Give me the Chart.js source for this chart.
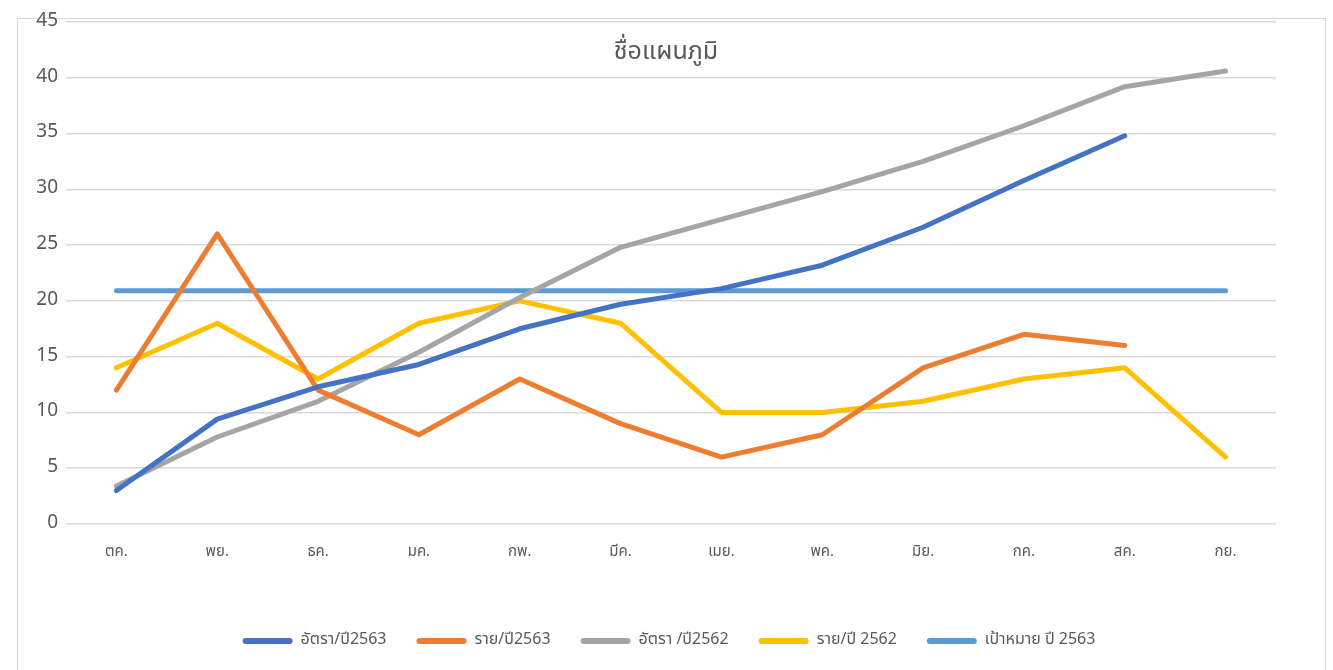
<!DOCTYPE html>
<html>
<head>
<meta charset="utf-8">
<script src="https://cdn.jsdelivr.net/npm/chart.js@4.4.1/dist/chart.umd.min.js"></script>
<style>
  html, body { margin: 0; padding: 0; background: #fff; width: 1333px; height: 670px; overflow: hidden; }
  #frame { position: absolute; left: 17px; top: 18px; width: 1309px; height: 700px; border: 1.5px solid #d9d9d9; box-sizing: border-box; }
  #wrap { position: absolute; left: 0; top: 0; width: 1333px; height: 670px; }
</style>
</head>
<body>
<div id="frame"></div>
<div id="wrap"><canvas id="c" width="1333" height="670"></canvas></div>
<script>
const categories = ['ตค.', 'พย.', 'ธค.', 'มค.', 'กพ.', 'มีค.', 'เมย.', 'พค.', 'มิย.', 'กค.', 'สค.', 'กย.'];
const rate2563 = [3, 9.4, 12.3, 14.3, 17.5, 19.7, 21.1, 23.2, 26.6, 30.8, 34.8, null];
const cases2563 = [12, 26, 12, 8, 13, 9, 6, 8, 14, 17, 16, null];
const rate2562 = [3.4, 7.8, 11, 15.4, 20.3, 24.8, 27.3, 29.8, 32.5, 35.7, 39.2, 40.6];
const cases2562 = [14, 18, 13, 18, 20, 18, 10, 10, 11, 13, 14, 6];
const target2563 = [20.9, 20.9, 20.9, 20.9, 20.9, 20.9, 20.9, 20.9, 20.9, 20.9, 20.9, 20.9];
const seriesNames = ['อัตรา/ปี2563', 'ราย/ปี2563', 'อัตรา /ปี2562', 'ราย/ปี 2562', 'เป้าหมาย ปี 2563'];
const yTicks = [0, 5, 10, 15, 20, 25, 30, 35, 40, 45];
const chartTitle = 'ชื่อแผนภูมิ';

const FONT = "'Noto Sans Thai', 'Liberation Sans', 'DejaVu Sans', sans-serif";
const colors = ['#4472C4', '#ED7D31', '#A5A5A5', '#FFC000', '#5B9BD5'];
const seriesData = [rate2563, cases2563, rate2562, cases2562, target2563];

const datasets = seriesData.map((d, i) => ({
  label: seriesNames[i],
  data: d,
  borderColor: colors[i],
  backgroundColor: colors[i],
  borderWidth: 5,
  borderCapStyle: 'round',
  borderJoinStyle: 'round',
  pointRadius: 0,
  pointHoverRadius: 0,
  tension: 0,
  fill: false,
  spanGaps: false
}));

const titlePlugin = {
  id: 'innerTitle',
  afterLayout(chart) {
    if (chart.legend) { chart.legend.left += 62; }
  },
  afterDraw(chart) {
    const ctx = chart.ctx;
    ctx.save();
    ctx.font = "25px " + FONT;
    ctx.fillStyle = '#595959';
    ctx.textAlign = 'center';
    ctx.textBaseline = 'middle';
    ctx.fillText(chartTitle, 666, 54);
    ctx.restore();
  }
};

new Chart(document.getElementById('c'), {
  type: 'line',
  data: { labels: categories, datasets },
  options: {
    responsive: false,
    animation: false,
    layout: { padding: { left: 0, right: 57, top: 22, bottom: 11 } },
    plugins: {
      title: { display: false },
      tooltip: { enabled: false },
      legend: {
        position: 'bottom',
        labels: {
          boxWidth: 50,
          boxHeight: 6,
          useBorderRadius: true,
          borderRadius: 3,
          padding: 30,
          color: '#595959',
          font: { family: FONT, size: 16 },
          generateLabels(chart) {
            return chart.data.datasets.map((ds, i) => ({
              text: ds.label,
              fillStyle: ds.borderColor,
              strokeStyle: ds.borderColor,
              lineWidth: 0,
              fontColor: '#595959',
              hidden: false,
              borderRadius: 3,
              datasetIndex: i
            }));
          }
        }
      }
    },
    scales: {
      x: {
        offset: true,
        grid: { display: false, drawTicks: false },
        border: { display: false },
        ticks: { color: '#595959', font: { family: FONT, size: 15 }, padding: 20, maxRotation: 0 },
        afterFit(scale) { scale.height = 79; }
      },
      y: {
        min: 0,
        max: 45,
        afterBuildTicks(scale) { scale.ticks = yTicks.map(v => ({ value: v })); },
        grid: { color: '#d9d9d9', lineWidth: 1.5, drawTicks: false },
        border: { display: false },
        ticks: { color: '#595959', font: { family: FONT, size: 19 }, padding: 8 },
        afterFit(scale) { scale.width = 66; }
      }
    }
  },
  plugins: [titlePlugin]
});
</script>
</body>
</html>
